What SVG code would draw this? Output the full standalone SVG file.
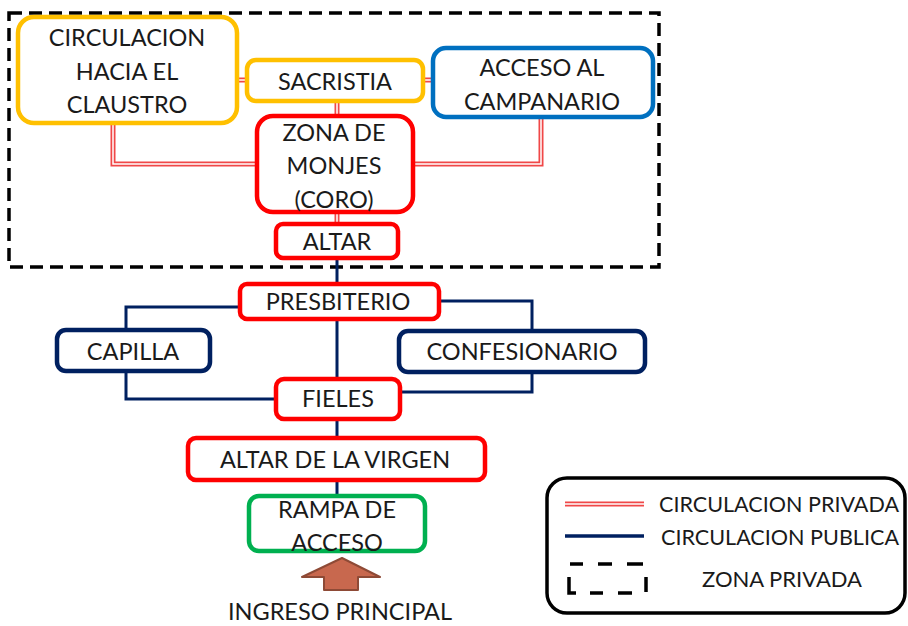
<svg xmlns="http://www.w3.org/2000/svg" width="908" height="626" viewBox="0 0 908 626">
<style>
.t{font-family:Lato,"Liberation Sans",Arial,sans-serif;font-size:23.5px;fill:#1a1a1a;text-anchor:middle}
.lt{font-family:Lato,"Liberation Sans",Arial,sans-serif;font-size:21.5px;fill:#1a1a1a}
.box{fill:#fff;stroke-width:4.5}
.y{stroke:#FFC000}
.r{stroke:#FF0000}
.b{stroke:#0070C0}
.n{stroke:#002060}
.g{stroke:#00B050}
.pv{fill:none;stroke:#F04848;stroke-width:5}
.pvi{fill:none;stroke:#fff;stroke-width:1.5}
.pb{fill:none;stroke:#002060;stroke-width:3}
</style>
<rect x="9" y="13" width="650" height="254" fill="none" stroke="#000" stroke-width="3.5" stroke-dasharray="13,7"/>
<g id="connectors">
<path class="pv" d="M237 80H247M423 80H433M337 101V115M113 123V164H257M413 164H541V117M337 212V223"/>
<path class="pvi" d="M237 80H247M423 80H433M337 101V115M113 123V164H257M413 164H541V117M337 212V223"/>
<path class="pb" d="M337 258V496M240 307H126V329M439 301H532V331M126 371V399H275M532 372V392H401"/>
</g>
<g id="claustro"><rect class="box y" x="18" y="17" width="219" height="106" rx="16"/>
<text class="t" x="127" y="46">CIRCULACION</text><text class="t" x="127" y="80">HACIA EL</text><text class="t" x="127" y="113">CLAUSTRO</text></g>
<g id="sacristia"><rect class="box y" x="247" y="60" width="176" height="41" rx="9"/>
<text class="t" x="335" y="90">SACRISTIA</text></g>
<g id="campanario"><rect class="box b" x="433" y="48" width="220" height="69" rx="13"/>
<text class="t" x="542" y="76">ACCESO AL</text><text class="t" x="542" y="110">CAMPANARIO</text></g>
<g id="monjes"><rect class="box r" x="257" y="116" width="156" height="96" rx="16"/>
<text class="t" x="334" y="141">ZONA DE</text><text class="t" x="334" y="174">MONJES</text><text class="t" x="334" y="208">(CORO)</text></g>
<g id="altar"><rect class="box r" x="276" y="224" width="122" height="34" rx="7"/>
<text class="t" x="337" y="250">ALTAR</text></g>
<g id="presbiterio"><rect class="box r" x="240" y="284" width="199" height="35" rx="7"/>
<text class="t" x="338" y="310">PRESBITERIO</text></g>
<g id="capilla"><rect class="box n" x="57" y="330" width="153" height="41" rx="9"/>
<text class="t" x="133" y="360">CAPILLA</text></g>
<g id="confesionario"><rect class="box n" x="399" y="331" width="246" height="41" rx="9"/>
<text class="t" x="522" y="360">CONFESIONARIO</text></g>
<g id="fieles"><rect class="box r" x="276" y="379" width="124" height="40" rx="8"/>
<text class="t" x="338" y="407">FIELES</text></g>
<g id="virgen"><rect class="box r" x="188" y="438" width="297" height="42" rx="8"/>
<text class="t" x="335" y="468">ALTAR DE LA VIRGEN</text></g>
<g id="rampa"><rect class="box g" x="249" y="496" width="176" height="55" rx="10"/>
<text class="t" x="337" y="518">RAMPA DE</text><text class="t" x="337" y="551">ACCESO</text></g>
<g id="ingreso"><polygon points="342,558 380,577 358,577 358,590 324,590 324,577 302,577" fill="#C8684E" stroke="#8E4A36" stroke-width="2" stroke-linejoin="round"/>
<text class="t" x="340" y="620">INGRESO PRINCIPAL</text></g>
<g id="legend">
<rect x="547" y="478" width="358" height="135" rx="20" fill="#fff" stroke="#000" stroke-width="3.5"/>
<path d="M565 504H644" stroke="#F04848" stroke-width="5"/>
<path d="M565 504H644" stroke="#fff" stroke-width="1.5"/>
<path d="M565 536H644" stroke="#002060" stroke-width="3.5"/>
<path d="M570 564H583M598 564H612M627 564H643M569 577V593H576M590 593H603M618 593H632M646 577V592" fill="none" stroke="#000" stroke-width="3.5"/>
<text class="lt" x="659" y="512" textLength="240" lengthAdjust="spacingAndGlyphs">CIRCULACION PRIVADA</text>
<text class="lt" x="661" y="545" textLength="238" lengthAdjust="spacingAndGlyphs">CIRCULACION PUBLICA</text>
<text class="lt" x="702" y="587" textLength="160" lengthAdjust="spacingAndGlyphs">ZONA PRIVADA</text>
</g>
</svg>
